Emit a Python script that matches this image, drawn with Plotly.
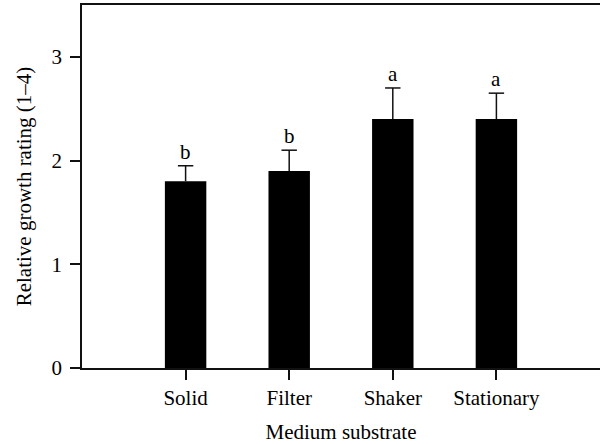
import plotly.graph_objects as go

categories = ["Solid", "Filter", "Shaker", "Stationary"]
positions = [1, 2, 3, 4]
values = [1.8, 1.9, 2.4, 2.4]
errors = [0.15, 0.2, 0.3, 0.25]
letters = ["b", "b", "a", "a"]
y_ticks = [0, 1, 2, 3]

FONT = "Liberation Serif"
FS = 21
LINE = "#111111"

tops = [v + e for v, e in zip(values, errors)]

# error stems built from the data (upper side only)
stem_x, stem_y = [], []
for xp, v, t in zip(positions, values, tops):
    stem_x += [xp, xp, None]
    stem_y += [v, t, None]

fig = go.Figure()
fig.add_trace(go.Bar(
    x=positions, y=values, width=0.4,
    marker=dict(color="#000000", line=dict(width=0)),
))
fig.add_trace(go.Scatter(
    x=stem_x, y=stem_y, mode="lines",
    line=dict(color=LINE, width=1.5), hoverinfo="skip",
))
fig.add_trace(go.Scatter(
    x=positions, y=tops, mode="markers",
    marker=dict(symbol="line-ew", size=11,
                line=dict(color=LINE, width=1.5)),
    hoverinfo="skip",
))

for xp, t, s in zip(positions, tops, letters):
    fig.add_annotation(x=xp, y=t, text=s, showarrow=False,
                       yanchor="bottom", yshift=0,
                       font=dict(family=FONT, size=FS, color="#000"))

fig.update_layout(
    width=600, height=444,
    margin=dict(l=82, r=0, t=5, b=76),
    paper_bgcolor="white", plot_bgcolor="white",
    showlegend=False,
    font=dict(family=FONT, size=FS, color="#000"),
    xaxis=dict(range=[0, 5], tickmode="array", tickvals=positions,
               ticktext=categories, ticks="outside", ticklen=10,
               tickwidth=1.5, tickcolor=LINE, showline=True,
               linecolor=LINE, linewidth=1.5, mirror=True,
               showgrid=False, zeroline=False, ticklabelstandoff=0,
               title=dict(text="Medium substrate", standoff=16,
                          font=dict(family=FONT, size=FS)),
               automargin=False),
    yaxis=dict(range=[0, 3.5], tickvals=y_ticks, ticks="outside",
               ticklen=10, tickwidth=1.5, tickcolor=LINE, showline=True,
               linecolor=LINE, linewidth=1.5, showgrid=False,
               zeroline=False, ticklabelstandoff=4,
               title=dict(text="Relative growth rating (1–4)", standoff=14,
                          font=dict(family=FONT, size=FS)),
               automargin=False),
)

fig.write_html("out.html")
